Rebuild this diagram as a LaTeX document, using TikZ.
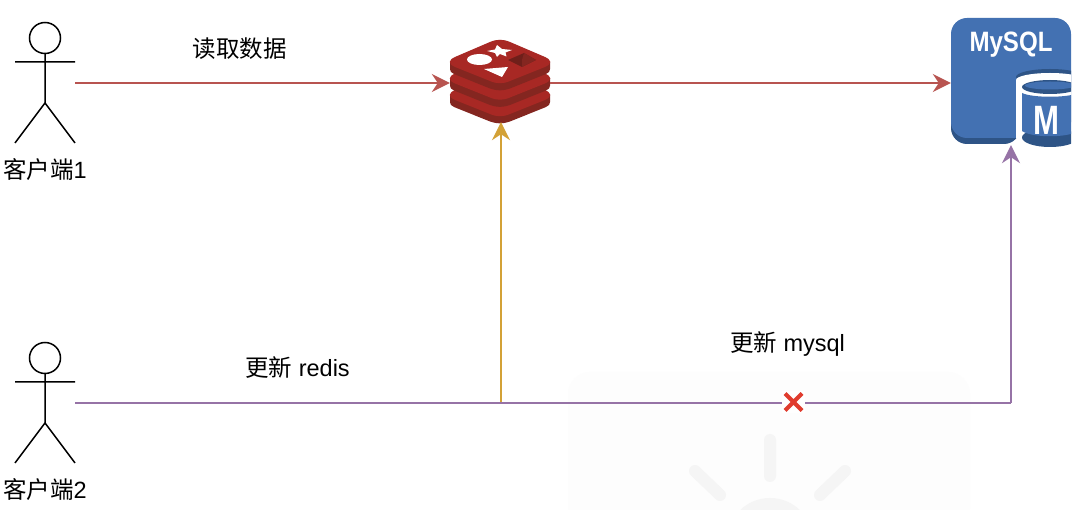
\documentclass[tikz,border=0pt]{standalone}
\usepackage{fontspec}
\setmainfont{Liberation Sans}
\newfontfamily\cjk{Noto Sans CJK SC}
\usetikzlibrary{arrows.meta}
\definecolor{lred}{HTML}{B85450}
\definecolor{lpurple}{HTML}{9673A6}
\definecolor{lyellow}{HTML}{D3A136}
\definecolor{rA}{HTML}{A82824}
\definecolor{rB}{HTML}{842620}
\definecolor{rC}{HTML}{6F1F1A}
\definecolor{mA}{HTML}{4371B2}
\definecolor{mB}{HTML}{2E5486}
\definecolor{xred}{HTML}{E03C2E}
\definecolor{wmA}{HTML}{FDFDFD}
\definecolor{wmB}{HTML}{F5F5F5}
\tikzset{
  link/.style={line width=1.6pt,-{Stealth[length=18pt,width=18pt,inset=6pt]}},
  actorline/.style={line width=1.5pt,black},
  lbl/.style={inner sep=0pt,font=\fontsize{23.5}{26}\selectfont},
}
\newcommand{\actor}[1]{%
  \begin{scope}[yshift=#1]
    \draw[actorline] (45,38) circle (15.5);
    \draw[actorline] (45,53.5) -- (45,103) (15,62) -- (75,62) (15,143) -- (45,103) -- (75,143);
  \end{scope}}
\newcommand{\redislayer}[1]{%
  \begin{scope}[yshift=#1]
    \fill[rB] (450,62) -- (450,69) .. controls (450,71) and (451,73) .. (454,74) -- (490,88.5) .. controls (497,91) and (503,91) .. (510,88.5) -- (546,74) .. controls (549,73) and (550,71) .. (550,69) -- (550,62) -- cycle;
    \fill[rA] (455,57) -- (490,42) .. controls (497,39) and (503,39) .. (510,42) -- (545,57) .. controls (552,60) and (552,64) .. (545,67) -- (510,81) .. controls (503,84) and (497,84) .. (490,81) -- (455,67) .. controls (448,64) and (448,60) .. (455,57) -- cycle;
  \end{scope}}
\begin{document}
\begin{tikzpicture}[x=1pt,y=-1pt]
\useasboundingbox (0,0) rectangle (1088,510);
\fill[white] (0,0) rectangle (1088,510);
% faint watermark
\fill[wmA,rounded corners=22pt] (568,372) rectangle (970,530);
\begin{scope}
\clip (0,0) rectangle (1088,510);
\draw[wmB,line width=12pt,line cap=round] (770,440) -- (770,476) (695,471) -- (720,495) (845,471) -- (820,495);
\fill[wmB] (770,541) circle (43);
\end{scope}
% actors
\actor{0pt}
\actor{-320pt}
\node[inner sep=0pt,minimum width=60pt,minimum height=125pt] (actor1) at (45,83) {};
\node[inner sep=0pt,minimum width=60pt,minimum height=125pt] (actor2) at (45,403) {};
\node[lbl] (cap1) at (45,170) {{\cjk 客户端}1};
\node[lbl] (cap2) at (45,490) {{\cjk 客户端}2};
% redis icon
\redislayer{-33pt}
\redislayer{-16.5pt}
\redislayer{0pt}
\fill[white] (479.5,59.5) ellipse (12.5 and 5.5);
\fill[white] (497,45) -- (502,49) -- (512,50) -- (505.5,52.5) -- (506.5,56.5) -- (500,54) -- (497,57) -- (495,53) -- (487,51) -- (495,49.5) -- cycle;
\fill[white] (484,69) -- (508,67) -- (502,77) -- cycle;
\fill[rC] (508,60) -- (524,53) -- (536,60) -- (522,67) -- cycle;
\fill[rB] (524,53) -- (536,60) -- (522,67) -- (522,60) -- cycle;
\node[inner sep=0pt,minimum width=100pt,minimum height=78pt] (redis) at (500,83) {};
% mysql icon
\begin{scope}
\clip (940,10) rectangle (1071,150);
\fill[mB,rounded corners=16pt] (951,100) -- (951,144) -- (1020,144) [sharp corners] -- (1020,100) -- cycle;
\fill[mA,rounded corners=16pt] (951,18) rectangle (1071,138);
\fill[mB] (1050,77) ellipse (34 and 8);
\fill[white] (1050,80) ellipse (34 and 7);
\fill[white] (1016,80) rectangle (1084,138);
\fill[mB] (1050,137.5) ellipse (28 and 9.5);
\fill[mA] (1022,93) .. controls (1032,98) and (1068,98) .. (1078,93) -- (1078,131) .. controls (1068,138) and (1032,138) .. (1022,131) -- cycle;
\fill[mB] (1050,87) ellipse (28 and 7);
\fill[mA] (1050,85.5) ellipse (25 and 4);
\end{scope}
\node[inner sep=0pt,text=white,font=\bfseries\fontsize{28}{30}\selectfont,xscale=.86] (mytext) at (1011,45) {MySQL};
\node[inner sep=0pt,text=white,font=\bfseries\fontsize{41}{44}\selectfont,xscale=.76] (mtext) at (1046,120) {M};
\node[inner sep=0pt,minimum width=120pt,minimum height=124pt] (mysql) at (1011,83) {};
% connectors
\coordinate (junction) at (501,403);
\coordinate (corner) at (1011,403);
\draw[link,lyellow] (junction) -- ([xshift=1pt]redis.south);
\draw[link,lred] (actor1.east) -- (redis.west);
\draw[link,lred] (redis.east) -- (mysql.west);
\draw[line width=1.6pt,lpurple] (actor2.east) -- (junction) -- (corner);
\draw[link,lpurple] (corner) -- (mysql.south);
% cross
\node[inner sep=0pt,fill=white,minimum width=23pt,minimum height=22pt] (cross) at (793.5,402) {};
\draw[xred,line width=4.2pt] (785,393.5) -- (802,410.5) (802,393.5) -- (785,410.5);
% labels
\node[lbl] (l1) at (239.5,49) {\cjk 读取数据};
\node[lbl] (l2) at (297.5,368) {{\cjk 更新} redis};
\node[lbl] (l3) at (787.5,344) {{\cjk 更新} mysql};
\end{tikzpicture}
\end{document}
